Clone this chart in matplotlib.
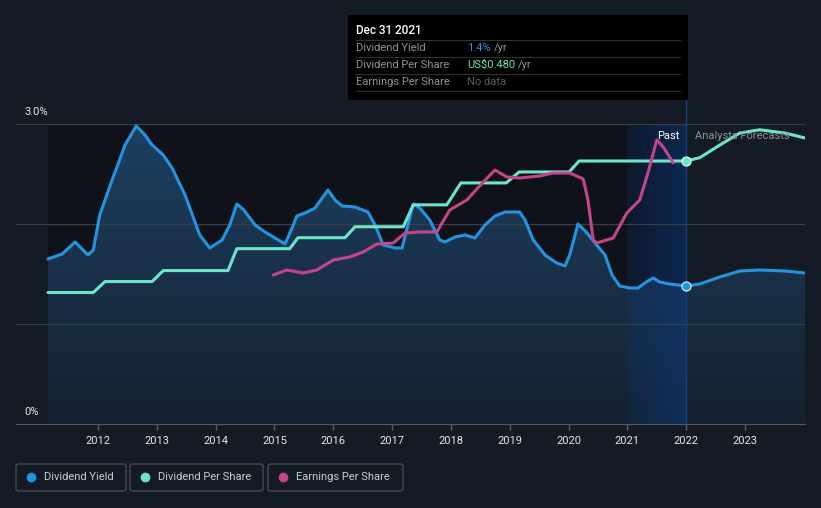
import numpy as np
import matplotlib
matplotlib.use('Agg')
import matplotlib.pyplot as plt
from matplotlib.patches import Rectangle, FancyBboxPatch
from matplotlib.colors import LinearSegmentedColormap

plt.rcParams['font.family'] = ['Roboto', 'DejaVu Sans']

# ---- data ----
yield_years = [2011.15, 2011.39, 2011.61, 2011.83, 2011.92, 2012.03, 2012.24, 2012.46, 2012.65, 2012.80,
               2012.92, 2013.11, 2013.26, 2013.48, 2013.73, 2013.90, 2014.11, 2014.24, 2014.36, 2014.48,
               2014.67, 2014.84, 2015.01, 2015.18, 2015.30, 2015.38, 2015.52, 2015.69, 2015.81, 2015.91,
               2016.03, 2016.15, 2016.37, 2016.59, 2016.71, 2016.85, 2017.05, 2017.17, 2017.27, 2017.36,
               2017.47, 2017.64, 2017.81, 2017.90, 2018.07, 2018.24, 2018.41, 2018.58, 2018.75, 2018.92,
               2019.17, 2019.26, 2019.40, 2019.60, 2019.80, 2019.94, 2020.02, 2020.16, 2020.30, 2020.45,
               2020.62, 2020.74, 2020.87, 2021.04, 2021.18, 2021.32, 2021.44, 2021.55, 2021.72, 2022.00,
               2022.23, 2022.57, 2022.91, 2023.25, 2023.68, 2024.02]
yield_pct = [1.65, 1.70, 1.82, 1.69, 1.74, 2.09, 2.44, 2.79, 2.98, 2.89,
             2.79, 2.69, 2.56, 2.29, 1.89, 1.76, 1.84, 1.99, 2.20, 2.14,
             1.99, 1.92, 1.86, 1.80, 1.96, 2.08, 2.11, 2.16, 2.26, 2.34,
             2.24, 2.18, 2.17, 2.12, 1.99, 1.79, 1.76, 1.76, 1.99, 2.20,
             2.16, 2.04, 1.84, 1.82, 1.87, 1.89, 1.86, 1.99, 2.08, 2.12,
             2.12, 2.04, 1.84, 1.69, 1.61, 1.58, 1.69, 2.00, 1.92, 1.81,
             1.69, 1.49, 1.38, 1.36, 1.36, 1.42, 1.46, 1.42, 1.40, 1.38,
             1.40, 1.47, 1.53, 1.54, 1.53, 1.51]

dps_years = [2011.15, 2011.92, 2012.12, 2012.92, 2013.11, 2014.21, 2014.36, 2015.26, 2015.40,
             2016.20, 2016.37, 2017.19, 2017.36, 2017.93, 2018.17, 2018.94, 2019.16, 2020.01,
             2020.18, 2022.00, 2022.23, 2022.57, 2022.91, 2023.25, 2023.68, 2024.02]
dps_usd = [0.24, 0.24, 0.26, 0.26, 0.28, 0.28, 0.32, 0.32, 0.34,
           0.34, 0.36, 0.36, 0.40, 0.40, 0.44, 0.44, 0.46, 0.46,
           0.48, 0.48, 0.486, 0.509, 0.531, 0.537, 0.531, 0.522]

eps_years = [2014.98, 2015.21, 2015.49, 2015.72, 2016.00, 2016.28, 2016.51, 2016.74, 2017.02, 2017.22,
             2017.47, 2017.76, 2017.98, 2018.27, 2018.55, 2018.75, 2018.95, 2019.17, 2019.51, 2019.74,
             2020.02, 2020.25, 2020.33, 2020.42, 2020.48, 2020.76, 2020.99, 2021.21, 2021.35, 2021.50,
             2021.61, 2021.78]
eps_usd = [1.49, 1.54, 1.51, 1.54, 1.64, 1.67, 1.72, 1.80, 1.81, 1.91,
           1.92, 1.92, 2.14, 2.24, 2.42, 2.54, 2.47, 2.46, 2.48, 2.51,
           2.51, 2.45, 2.24, 1.84, 1.81, 1.86, 2.11, 2.24, 2.51, 2.84,
           2.77, 2.61]

year_ticks = list(range(2012, 2024))
past_start = 2011.15
highlight_start = 2021.0
today = 2022.0

BG = '#151b24'
C_YIELD = '#2394df'
C_DPS = '#6ce5c9'
C_EPS = '#c4458a'

fig = plt.figure(figsize=(8.21, 5.08), dpi=100, facecolor=BG)
ax = fig.add_axes([16 / 821, 84 / 508, 789 / 821, 300 / 508])
ax.set_facecolor(BG)

# past region darker
ax.axvspan(past_start, today, color='#0f1319', zorder=0, lw=0)

# gradient fill under dividend yield
fill = ax.fill_between(yield_years, yield_pct, 0, color='none', lw=0, zorder=1)
cmap_fill = LinearSegmentedColormap.from_list('f', ['#15212e', '#1d4062'])
grad = np.linspace(0, 1, 256).reshape(-1, 1)
im = ax.imshow(grad, cmap=cmap_fill, origin='lower', aspect='auto',
               extent=[2010.606, 2024.02, 0, 3.0], zorder=1)
im.set_clip_path(fill.get_paths()[0], transform=ax.transData)

# highlighted last year band
band = np.zeros((1, 100, 4))
band[..., 0] = 0.04
band[..., 1] = 0.22
band[..., 2] = 0.50
band[..., 3] = np.linspace(0.18, 0.55, 100)
ax.imshow(band, aspect='auto', extent=[highlight_start, today, 0, 3.0], zorder=2)
ax.set_xlim(2010.606, 2024.02)
ax.set_ylim(0, 3.0)

# gridlines
for g in [1.0, 2.0, 3.0]:
    ax.axhline(g, color='#3a3f48', lw=0.9, zorder=2)
ax.axvline(today, ymin=0, ymax=1.08, color='#17406e', lw=1, zorder=2, clip_on=False)

line_kw = dict(lw=2.2, zorder=5, solid_capstyle='round', solid_joinstyle='round')
ax.plot(yield_years, yield_pct, color=C_YIELD, **line_kw)
ax.plot([today], [1.38], 'o', ms=6.5, color=C_YIELD, mec='#cfe6fa', mew=0.9, zorder=8)

ax2 = ax.twinx()
ax2.set_ylim(0, 0.48 * 300 / 263)
ax2.plot(dps_years, dps_usd, color=C_DPS, **line_kw)
ax2.plot([today], [0.48], 'o', ms=6.5, color=C_DPS, mec='#d6faf2', mew=0.9, zorder=8)

ax3 = ax.twinx()
ax3.set_ylim(0, 3.0)
ax3.plot(eps_years, eps_usd, color=C_EPS, **line_kw)

for a in (ax2, ax3):
    a.set_axis_off()
    a.set_xlim(2010.606, 2024.02)

for s in ['top', 'right', 'left']:
    ax.spines[s].set_visible(False)
ax.spines['bottom'].set_color('#555a63')
ax.set_yticks([])
ax.set_xticks(year_ticks)
ax.set_xticklabels([str(y) for y in year_ticks])
ax.tick_params(axis='x', colors='#555a63', length=4, width=1, labelcolor='#e6e6e6',
               labelsize=8, pad=5)

fig.text(24 / 821, 1 - 112 / 508, '3.0%', color='#e6e6e6', fontsize=8, va='center')
fig.text(24 / 821, 1 - 412 / 508, '0%', color='#e6e6e6', fontsize=8, va='center')
fig.text(679 / 821, 1 - 136 / 508, 'Past', color='#ffffff', fontsize=8, va='center', ha='right')
fig.text(695 / 821, 1 - 136 / 508, 'Analysts Forecasts', color='#8a8f98', fontsize=8, va='center',
         zorder=1)

# tooltip
fig.patches.append(Rectangle((348 / 821, 1 - 100 / 508), 340 / 821, 85 / 508, transform=fig.transFigure,
                             facecolor='#000000', edgecolor='none', zorder=10))
fig.text(356 / 821, 1 - 31 / 508, 'Dec 31 2021', color='#ffffff', fontsize=8.5, va='center',
         fontweight='medium', zorder=11)
rows = [('Dividend Yield', 48), ('Dividend Per Share', 65), ('Earnings Per Share', 82)]
for label, yy in rows:
    fig.text(356 / 821, 1 - yy / 508, label, color='#8f949c', fontsize=8, va='center', zorder=11)
for yy in [40, 57, 74, 91]:
    fig.add_artist(plt.Line2D([356 / 821, 680 / 821], [1 - yy / 508] * 2, color='#2e3238', lw=0.8,
                              transform=fig.transFigure, zorder=11))

fig.canvas.draw()
renderer = fig.canvas.get_renderer()
values = [('1.4%', C_YIELD, 48), ('US$0.480', C_DPS, 65)]
for val, col, yy in values:
    t = fig.text(467 / 821, 1 - yy / 508, val, color=col, fontsize=8, va='center', zorder=11)
    bb = t.get_window_extent(renderer)
    fig.text((bb.x1 + 3) / 821, 1 - yy / 508, '/yr', color='#8f949c', fontsize=8, va='center', zorder=11)
fig.text(467 / 821, 1 - 82 / 508, 'No data', color='#5a5e65', fontsize=8, va='center', zorder=11)

# legend
legend_items = [('Dividend Yield', C_YIELD, 16, 126), ('Dividend Per Share', C_DPS, 130, 263),
                ('Earnings Per Share', C_EPS, 268, 403)]
for label, col, x0, x1 in legend_items:
    fig.patches.append(FancyBboxPatch((x0 / 821, 1 - 491 / 508), (x1 - x0) / 821, 27 / 508,
                                      boxstyle='round,pad=0,rounding_size=0.004',
                                      transform=fig.transFigure, facecolor='none',
                                      edgecolor='#454b55', lw=1))
    fig.add_artist(plt.Line2D([(x0 + 15) / 821], [1 - 477 / 508], marker='o', ms=6, color=col,
                              transform=fig.transFigure, lw=0))
    fig.text((x0 + 28) / 821, 1 - 477 / 508, label, color='#c8ccd2', fontsize=8, va='center')

fig.savefig('out.png', dpi=100, facecolor=BG)
